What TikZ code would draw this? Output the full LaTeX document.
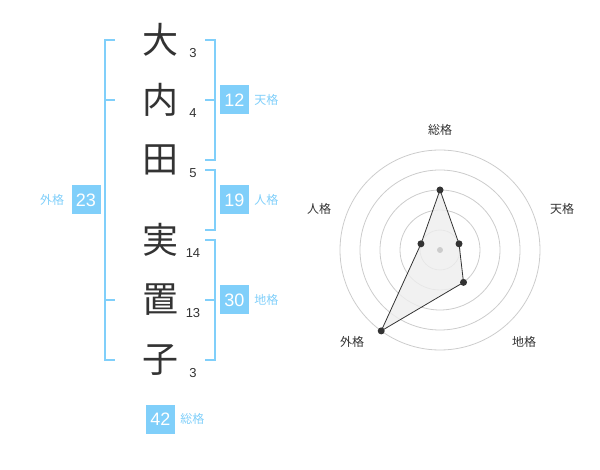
\documentclass[tikz,border=0pt]{standalone}
\usepackage{fontspec}
\setmainfont{Liberation Sans}
\newfontfamily\jp{Noto Sans CJK JP}
\usetikzlibrary{positioning}
\definecolor{kakublue}{HTML}{80CFFA}
\definecolor{ink}{HTML}{333333}
\definecolor{ring}{HTML}{CCCCCC}
\definecolor{area}{HTML}{EEEEEE}

\tikzset{
  kanji/.style={font=\jp\fontsize{36}{36}\selectfont, text=ink, inner sep=0pt},
  kakusu/.style={font=\fontsize{13}{13}\selectfont, text=ink, inner sep=0pt},
  scorebox/.style={fill=kakublue, text=white, minimum size=29pt, inner sep=0pt, font=\fontsize{18}{18}\selectfont},
  kakuname/.style={font=\jp\fontsize{12}{12}\selectfont, text=kakublue, inner sep=0pt},
  bracket/.style={draw=kakublue, line width=2pt},
  axisname/.style={font=\jp\fontsize{12}{12}\selectfont, text=ink, inner sep=0pt},
  dot/.style={circle, fill=ink, inner sep=0pt, minimum size=7pt}
}

\begin{document}
\begin{tikzpicture}[x=1pt, y=-1pt]
    \useasboundingbox (0,0) rectangle (600,470);

    % name
    \node[kanji] (c1) at (160,40) {大};
    \node[kanji] (c2) at (160,100) {内};
    \node[kanji] (c3) at (160,160) {田};
    \node[kanji] (c4) at (160,240) {実};
    \node[kanji] (c5) at (160,300) {置};
    \node[kanji] (c6) at (160,360) {子};

    \node[kakusu] (n1) at (193,53) {3};
    \node[kakusu] (n2) at (193,113) {4};
    \node[kakusu] (n3) at (193,173) {5};
    \node[kakusu] (n4) at (193,253) {14};
    \node[kakusu] (n5) at (193,313) {13};
    \node[kakusu] (n6) at (193,373) {3};

    % brackets
    \draw[bracket] (115,40) -- (105,40) -- (105,360) -- (115,360);
    \draw[bracket] (105,100) -- (115,100);
    \draw[bracket] (105,300) -- (115,300);

    \draw[bracket] (205,40) -- (215,40) -- (215,160) -- (205,160);
    \draw[bracket] (205,100) -- (215,100);
    \draw[bracket] (205,170) -- (215,170) -- (215,230) -- (205,230);
    \draw[bracket] (205,240) -- (215,240) -- (215,360) -- (205,360);
    \draw[bracket] (205,300) -- (215,300);

    % scores
    \node[scorebox] (ten) at (234.5,100) {12};
    \node[kakuname] (tenlab) [right=5pt of ten] {天格};
    \node[scorebox] (jin) at (234.5,200) {19};
    \node[kakuname] (jinlab) [right=5pt of jin] {人格};
    \node[scorebox] (chi) at (234.5,300) {30};
    \node[kakuname] (chilab) [right=5pt of chi] {地格};
    \node[scorebox] (gai) at (86,200) {23};
    \node[kakuname] (gailab) [left=7pt of gai] {外格};
    \node[scorebox] (sou) at (160.5,419) {42};
    \node[kakuname] (soulab) [right=5pt of sou] {総格};

    % radar
    \coordinate (o) at (440,250);
    \foreach \r in {20,40,60,80,100}
        \draw[ring, line width=0.8pt] (o) circle[radius=\r pt];

    \coordinate (psou) at ([shift={(90:60pt)}]o);
    \coordinate (pten) at ([shift={(18:20pt)}]o);
    \coordinate (pchi) at ([shift={(-54:40pt)}]o);
    \coordinate (pgai) at ([shift={(-126:100pt)}]o);
    \coordinate (pjin) at ([shift={(162:20pt)}]o);

    \fill[area, fill opacity=.8] (psou) -- (pten) -- (pchi) -- (pgai) -- (pjin) -- cycle;
    \node[circle, fill=ring, inner sep=0pt, minimum size=6pt] (mid) at (o) {};
    \draw[ink, line width=0.8pt] (psou) -- (pten) -- (pchi) -- (pgai) -- (pjin) -- cycle;
    \foreach \p in {psou,pten,pchi,pgai,pjin}
        \node[dot] (d\p) at (\p) {};

    \node[axisname] (asou) at (440,130) {総格};
    \node[axisname] (aten) at (562,209) {天格};
    \node[axisname] (achi) at (524,342) {地格};
    \node[axisname] (agai) at (352,342) {外格};
    \node[axisname] (ajin) at (319,209) {人格};
\end{tikzpicture}
\end{document}
